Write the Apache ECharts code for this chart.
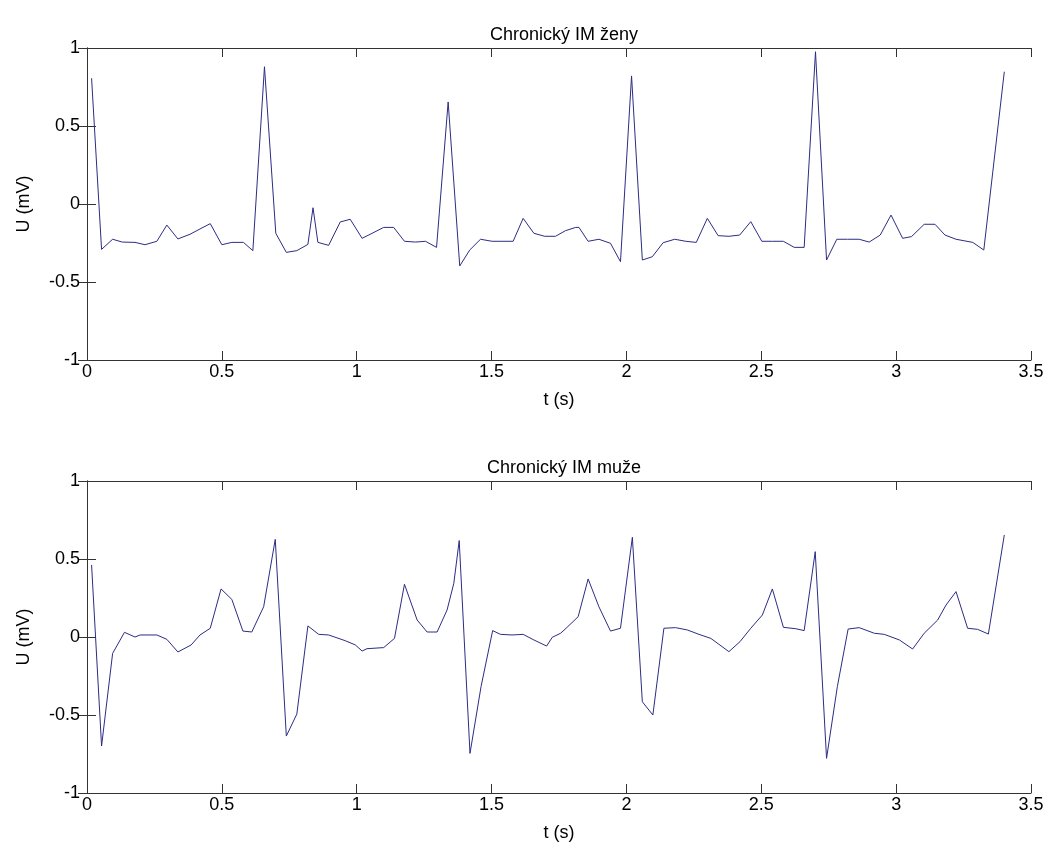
<!DOCTYPE html>
<html>
<head>
<meta charset="utf-8">
<script src="https://cdn.jsdelivr.net/npm/echarts@6/dist/echarts.min.js"></script>
<style>
  html, body { margin: 0; padding: 0; background: #fff; }
  #main { width: 1049px; height: 850px; }
</style>
</head>
<body>
<div id="main"></div>
<script>
// casy vrcholu (s) a napeti (mV)
var zenyT = [0.017,0.054,0.095,0.131,0.178,0.215,0.259,0.296,0.337,0.382,0.419,0.457,0.500,0.537,0.580,0.615,0.658,0.700,0.739,0.778,0.819,0.838,0.856,0.896,0.939,0.976,1.020,1.057,1.100,1.137,1.177,1.218,1.255,1.296,1.339,1.382,1.419,1.459,1.502,1.539,1.580,1.617,1.657,1.697,1.737,1.774,1.812,1.824,1.858,1.898,1.941,1.978,2.019,2.059,2.096,2.136,2.179,2.220,2.259,2.300,2.340,2.380,2.420,2.461,2.502,2.541,2.582,2.622,2.659,2.701,2.742,2.780,2.820,2.863,2.900,2.941,2.981,3.024,3.057,3.104,3.144,3.181,3.222,3.284,3.325,3.401];
var zenyU = [0.806,-0.291,-0.226,-0.244,-0.246,-0.261,-0.239,-0.135,-0.224,-0.194,-0.160,-0.126,-0.261,-0.246,-0.246,-0.299,0.880,-0.188,-0.310,-0.299,-0.259,-0.024,-0.246,-0.265,-0.115,-0.098,-0.220,-0.188,-0.150,-0.150,-0.239,-0.244,-0.239,-0.278,0.654,-0.397,-0.295,-0.226,-0.239,-0.239,-0.239,-0.092,-0.188,-0.207,-0.207,-0.171,-0.150,-0.150,-0.239,-0.226,-0.252,-0.370,0.821,-0.359,-0.338,-0.248,-0.226,-0.239,-0.246,-0.092,-0.203,-0.207,-0.199,-0.113,-0.239,-0.239,-0.239,-0.278,-0.278,0.976,-0.359,-0.226,-0.226,-0.226,-0.244,-0.199,-0.071,-0.220,-0.209,-0.130,-0.130,-0.199,-0.226,-0.246,-0.295,0.848];

var muzeT = [0.017,0.054,0.095,0.139,0.178,0.197,0.259,0.296,0.337,0.386,0.419,0.457,0.497,0.537,0.578,0.611,0.655,0.698,0.739,0.778,0.819,0.859,0.896,0.958,0.995,1.020,1.038,1.100,1.140,1.177,1.224,1.261,1.298,1.335,1.360,1.380,1.420,1.461,1.504,1.533,1.576,1.617,1.657,1.704,1.725,1.756,1.780,1.821,1.858,1.898,1.941,1.978,2.022,2.059,2.098,2.139,2.182,2.226,2.269,2.313,2.343,2.380,2.421,2.461,2.504,2.541,2.582,2.628,2.659,2.700,2.742,2.782,2.822,2.863,2.919,2.956,3.012,3.061,3.104,3.154,3.185,3.222,3.265,3.302,3.342,3.401];
var muzeU = [0.462,-0.699,-0.105,0.030,0.000,0.013,0.013,-0.015,-0.096,-0.051,0.013,0.056,0.308,0.241,0.038,0.032,0.194,0.626,-0.635,-0.494,0.071,0.017,0.013,-0.024,-0.051,-0.090,-0.075,-0.068,-0.009,0.338,0.109,0.032,0.032,0.173,0.344,0.618,-0.746,-0.318,0.041,0.017,0.013,0.017,-0.019,-0.058,-0.002,0.024,0.062,0.130,0.372,0.194,0.038,0.056,0.639,-0.415,-0.500,0.056,0.060,0.045,0.017,-0.009,-0.047,-0.094,-0.030,0.056,0.141,0.308,0.062,0.053,0.041,0.547,-0.778,-0.318,0.051,0.060,0.024,0.017,-0.019,-0.077,0.024,0.109,0.205,0.291,0.056,0.049,0.019,0.654];

var titulky = ['Chronický IM ženy', 'Chronický IM muže'];

var font = 'Liberation Sans, Arial, sans-serif';
var osa = '#333';

function pary(t, u) {
  return t.map(function (x, i) { return [x, u[i]]; });
}

function xOsa(g, pos) {
  var spodni = pos == 'bottom';
  return {
    type: 'value', gridIndex: g, position: pos,
    min: 0, max: 3.5, interval: 0.5,
    name: spodni ? 't (s)' : '', nameLocation: 'middle', nameGap: 31,
    nameTextStyle: { color: '#000', fontFamily: font, fontSize: 18 },
    axisLine: { show: true, onZero: false, lineStyle: { color: osa, width: 1 } },
    axisTick: { show: true, inside: true, length: 9, lineStyle: { color: osa } },
    axisLabel: { show: spodni, color: '#000', fontFamily: font, fontSize: 18, margin: 3 },
    splitLine: { show: false }
  };
}

function yOsa(g, pos) {
  var leva = pos == 'left';
  return {
    type: 'value', gridIndex: g, position: pos,
    min: -1, max: 1, interval: 0.5,
    name: leva ? 'U (mV)' : '', nameLocation: 'middle', nameGap: 54,
    nameTextStyle: { color: '#000', fontFamily: font, fontSize: 18 },
    axisLine: { show: true, lineStyle: { color: osa, width: 1 } },
    axisTick: { show: true, inside: true, length: 9, lineStyle: { color: osa } },
    axisLabel: { show: leva, color: '#000', fontFamily: font, fontSize: 18, margin: 7 },
    splitLine: { show: false }
  };
}

var myChart = echarts.init(document.getElementById('main'));
var option = {
  backgroundColor: '#fff',
  animation: false,
  title: [
    { text: titulky[0], left: 559, top: 21, textAlign: 'center',
      textStyle: { color: '#000', fontFamily: font, fontSize: 18, fontWeight: 'normal' } },
    { text: titulky[1], left: 559, top: 454, textAlign: 'center',
      textStyle: { color: '#000', fontFamily: font, fontSize: 18, fontWeight: 'normal' } }
  ],
  grid: [
    { left: 87, top: 48, width: 944, height: 312 },
    { left: 87, top: 481, width: 944, height: 312 }
  ],
  xAxis: [xOsa(0, 'bottom'), xOsa(0, 'top'), xOsa(1, 'bottom'), xOsa(1, 'top')],
  yAxis: [yOsa(0, 'left'), yOsa(0, 'right'), yOsa(1, 'left'), yOsa(1, 'right')],
  series: [
    { type: 'line', xAxisIndex: 0, yAxisIndex: 0, data: pary(zenyT, zenyU),
      showSymbol: false, lineStyle: { color: '#2c2c84', width: 1 } },
    { type: 'line', xAxisIndex: 2, yAxisIndex: 2, data: pary(muzeT, muzeU),
      showSymbol: false, lineStyle: { color: '#2c2c84', width: 1 } }
  ]
};
myChart.setOption(option);
</script>
</body>
</html>
